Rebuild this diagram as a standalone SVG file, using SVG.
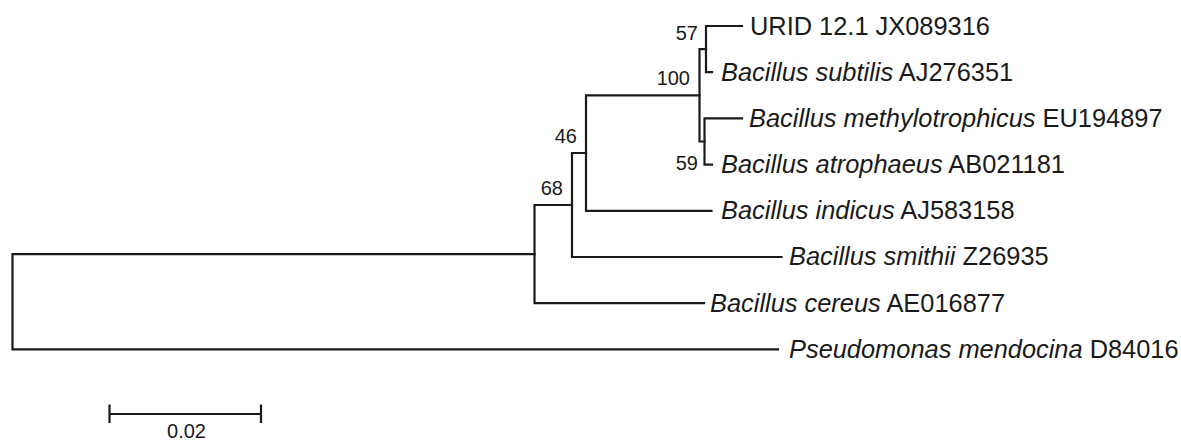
<svg xmlns="http://www.w3.org/2000/svg" width="1181" height="443" viewBox="0 0 1181 443">
  <style>
    .br { fill: none; stroke: #1a1a1a; stroke-width: 2.2; stroke-linecap: square; }
    .tx { font-family: "Liberation Sans", Arial, sans-serif; font-size: 25.4px; fill: #1a1a1a; }
    .sp { font-style: italic; }
    .bs { font-family: "Liberation Sans", Arial, sans-serif; font-size: 20px; fill: #1a1a1a; text-anchor: end; }
    .sc { font-family: "Liberation Sans", Arial, sans-serif; font-size: 20px; fill: #1a1a1a; text-anchor: middle; }
  </style>
  <rect width="1181" height="443" fill="#ffffff"/>

  <!-- tree branches (rectangular cladogram) -->
  <g id="connectors">
    <!-- root -->
    <path class="br" d="M12.5,254.1 V349.4 M12.5,254.1 H534.5 M12.5,349.4 H778"/>
    <!-- cereus split -->
    <path class="br" d="M534.5,205 V303.2 M534.5,205 H572 M534.5,303.2 H704"/>
    <!-- node 68 -->
    <path class="br" d="M572,153 V257 M572,153 H586 M572,257 H781.5"/>
    <!-- node 46 -->
    <path class="br" d="M586,95.3 V210.8 M586,95.3 H699.5 M586,210.8 H711.5"/>
    <!-- node 100 -->
    <path class="br" d="M699.5,49.1 V141.5 M699.5,49.1 H706 M699.5,141.5 H704.5"/>
    <!-- node 57 -->
    <path class="br" d="M706,26 V72.2 M706,26 H742 M706,72.2 H712"/>
    <!-- node 59 -->
    <path class="br" d="M704.5,118.4 V164.6 M704.5,118.4 H742 M704.5,164.6 H712"/>
  </g>

  <!-- leaf labels -->
  <g id="urid"><text class="tx" x="750" y="35">URID 12.1 JX089316</text></g>
  <g id="subtilis"><text class="tx" x="721" y="81"><tspan class="sp">Bacillus subtilis</tspan> AJ276351</text></g>
  <g id="methylotrophicus"><text class="tx" x="749" y="127"><tspan class="sp">Bacillus methylotrophicus</tspan> EU194897</text></g>
  <g id="atrophaeus"><text class="tx" x="721" y="173"><tspan class="sp">Bacillus atrophaeus</tspan> AB021181</text></g>
  <g id="indicus"><text class="tx" x="721" y="219"><tspan class="sp">Bacillus indicus</tspan> AJ583158</text></g>
  <g id="smithii"><text class="tx" x="789" y="265"><tspan class="sp">Bacillus smithii</tspan> Z26935</text></g>
  <g id="cereus"><text class="tx" x="710" y="312"><tspan class="sp">Bacillus cereus</tspan> AE016877</text></g>
  <g id="pseudomonas"><text class="tx" x="789" y="358"><tspan class="sp">Pseudomonas mendocina</tspan> D84016</text></g>

  <!-- bootstrap values -->
  <g id="bootstrap">
    <text class="bs" x="698" y="40">57</text>
    <text class="bs" x="690" y="85">100</text>
    <text class="bs" x="698" y="170">59</text>
    <text class="bs" x="577" y="143">46</text>
    <text class="bs" x="563" y="195">68</text>
  </g>

  <!-- scale bar -->
  <g id="scale">
    <path class="br" d="M109.5,414 H261 M109.5,405.5 V422 M261,405.5 V422"/>
    <text class="sc" x="186.5" y="438">0.02</text>
  </g>
</svg>
